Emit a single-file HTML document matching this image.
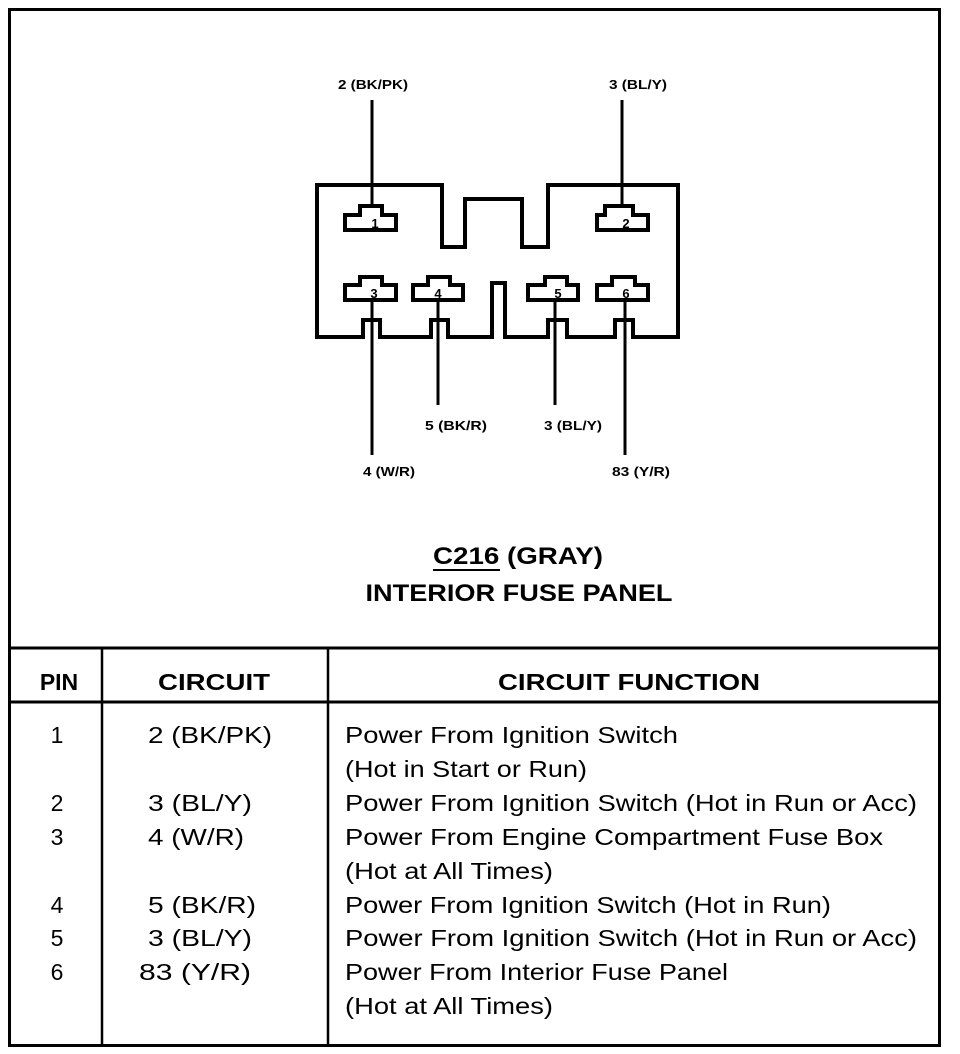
<!DOCTYPE html>
<html><head><style>body{margin:0;background:#fff}svg{display:block}</style></head><body>
<svg width="960" height="1054" viewBox="0 0 960 1054" xmlns="http://www.w3.org/2000/svg" font-family="Liberation Sans, Arial, sans-serif">
<rect x="9.5" y="9.5" width="930" height="1036" fill="none" stroke="#000" stroke-width="3"/>
<line x1="9" y1="648" x2="940" y2="648" stroke="#000" stroke-width="3"/>
<line x1="9" y1="702" x2="940" y2="702" stroke="#000" stroke-width="3"/>
<line x1="102" y1="648" x2="102" y2="1046" stroke="#000" stroke-width="2.5"/>
<line x1="328" y1="648" x2="328" y2="1046" stroke="#000" stroke-width="2.5"/>
<g fill="none" stroke="#000" stroke-width="4">
<path d="M317 185 H442 V247 H465 V199 H522 V247 H548 V185 H678 V337 H633 V320 H615 V337 H567 V320 H548 V337 H505 V283 H492 V337 H448 V320 H431 V337 H380 V320 H363 V337 H317 Z"/>
<path d="M360 215 V206 H382 V215 H396 V230 H345 V215 Z"/>
<path d="M605 215 V206 H633 V215 H648 V230 H597 V215 Z"/>
<path d="M360 285 V277 H382 V285 H396 V300 H345 V285 Z"/>
<path d="M428 285 V277 H450 V285 H463 V300 H413 V285 Z"/>
<path d="M545 285 V277 H567 V285 H578 V300 H528 V285 Z"/>
<path d="M612 285 V277 H635 V285 H648 V300 H597 V285 Z"/>
</g>
<g stroke="#000" stroke-width="3">
<line x1="372" y1="100" x2="372" y2="206"/>
<line x1="622" y1="100" x2="622" y2="206"/>
<line x1="372" y1="300" x2="372" y2="455"/>
<line x1="438" y1="300" x2="438" y2="405"/>
<line x1="555" y1="300" x2="555" y2="405"/>
<line x1="625" y1="300" x2="625" y2="455"/>
</g>
<g font-size="13" font-weight="bold" text-anchor="middle">
<text x="375" y="228">1</text><text x="626" y="228">2</text>
<text x="374" y="298">3</text><text x="438" y="298">4</text><text x="558" y="298">5</text><text x="626" y="298">6</text>
<text x="373" y="89" textLength="70" lengthAdjust="spacingAndGlyphs">2 (BK/PK)</text>
<text x="638" y="89" textLength="58" lengthAdjust="spacingAndGlyphs">3 (BL/Y)</text>
<text x="456" y="430" textLength="62" lengthAdjust="spacingAndGlyphs">5 (BK/R)</text>
<text x="573" y="430" textLength="58" lengthAdjust="spacingAndGlyphs">3 (BL/Y)</text>
<text x="389" y="476" textLength="52" lengthAdjust="spacingAndGlyphs">4 (W/R)</text>
<text x="641" y="476" textLength="58" lengthAdjust="spacingAndGlyphs">83 (Y/R)</text>
</g>
<g font-weight="bold" font-size="24" text-anchor="middle">
<text x="518" y="564" textLength="170" lengthAdjust="spacingAndGlyphs">C216 (GRAY)</text>
<text x="519" y="601" textLength="307" lengthAdjust="spacingAndGlyphs">INTERIOR FUSE PANEL</text>
</g>
<line x1="433" y1="570" x2="500" y2="570" stroke="#000" stroke-width="2"/>
<g font-weight="bold" font-size="23" text-anchor="middle">
<text x="59" y="690">PIN</text>
<text x="214" y="690" textLength="112" lengthAdjust="spacingAndGlyphs">CIRCUIT</text>
<text x="629" y="690" textLength="262" lengthAdjust="spacingAndGlyphs">CIRCUIT FUNCTION</text>
</g>
<g font-size="23">
<g text-anchor="middle">
<text x="57" y="743">1</text><text x="57" y="811">2</text><text x="57" y="845">3</text>
<text x="57" y="913">4</text><text x="57" y="946">5</text><text x="57" y="980">6</text>
</g>
<text x="148" y="743" textLength="124" lengthAdjust="spacingAndGlyphs">2 (BK/PK)</text>
<text x="148" y="811" textLength="104" lengthAdjust="spacingAndGlyphs">3 (BL/Y)</text>
<text x="148" y="845" textLength="96" lengthAdjust="spacingAndGlyphs">4 (W/R)</text>
<text x="148" y="913" textLength="108" lengthAdjust="spacingAndGlyphs">5 (BK/R)</text>
<text x="148" y="946" textLength="104" lengthAdjust="spacingAndGlyphs">3 (BL/Y)</text>
<text x="139" y="980" textLength="112" lengthAdjust="spacingAndGlyphs">83 (Y/R)</text>
<text x="345" y="743" textLength="333" lengthAdjust="spacingAndGlyphs">Power From Ignition Switch</text>
<text x="345" y="777" textLength="242" lengthAdjust="spacingAndGlyphs">(Hot in Start or Run)</text>
<text x="345" y="811" textLength="572" lengthAdjust="spacingAndGlyphs">Power From Ignition Switch (Hot in Run or Acc)</text>
<text x="345" y="845" textLength="538" lengthAdjust="spacingAndGlyphs">Power From Engine Compartment Fuse Box</text>
<text x="345" y="879" textLength="208" lengthAdjust="spacingAndGlyphs">(Hot at All Times)</text>
<text x="345" y="913" textLength="486" lengthAdjust="spacingAndGlyphs">Power From Ignition Switch (Hot in Run)</text>
<text x="345" y="946" textLength="572" lengthAdjust="spacingAndGlyphs">Power From Ignition Switch (Hot in Run or Acc)</text>
<text x="345" y="980" textLength="383" lengthAdjust="spacingAndGlyphs">Power From Interior Fuse Panel</text>
<text x="345" y="1014" textLength="208" lengthAdjust="spacingAndGlyphs">(Hot at All Times)</text>
</g>
</svg>
</body></html>
